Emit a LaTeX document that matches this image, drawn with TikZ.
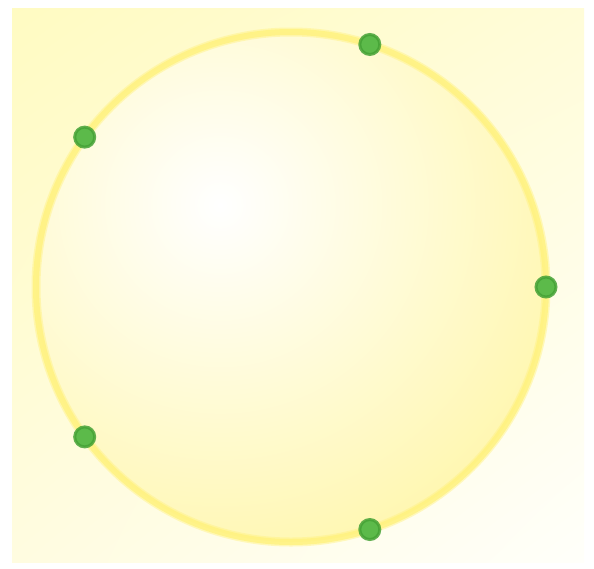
\documentclass[tikz,border=0pt]{standalone}
\usetikzlibrary{shadings}
\definecolor{bgTL}{HTML}{FFFBC2}
\definecolor{bgTR}{HTML}{FFFCD8}
\definecolor{bgBL}{HTML}{FFFCE0}
\definecolor{bgBR}{HTML}{FFFFFA}
\definecolor{ballOut}{HTML}{FFF7B0}
\definecolor{ringCol}{HTML}{FFF27E}
\definecolor{dotFill}{HTML}{5CBA4A}
\definecolor{dotLine}{HTML}{45A236}
\tikzset{
  dotnode/.style={circle, fill=dotFill, draw=dotLine, draw opacity=0.85, line width=3pt, minimum size=20pt, inner sep=0pt},
}
\begin{document}
\begin{tikzpicture}[x=1pt,y=-1pt]
\useasboundingbox (0,0) rectangle (594,568);
\fill[white] (0,0) rectangle (594,568);
\shade[upper left=bgTL, upper right=bgTR, lower left=bgBL, lower right=bgBR] (12,8) rectangle (584,562);
\coordinate (c) at (291,287);
\begin{scope}
  \clip (c) circle (255);
  \shade[inner color=white, outer color=ballOut] (220,205) circle (370);
\end{scope}
\draw[ringCol, draw opacity=0.45, line width=9pt] (c) circle (255);
\draw[ringCol, draw opacity=0.8, line width=6pt] (c) circle (255);
\begin{scope}[shift={(c)}]
  \node[dotnode] (p0) at (0:255) {};
  \node[dotnode] (p1) at (72:255) {};
  \node[dotnode] (p2) at (144:255) {};
  \node[dotnode] (p3) at (216:255) {};
  \node[dotnode] (p4) at (288:255) {};
\end{scope}
\end{tikzpicture}
\end{document}
